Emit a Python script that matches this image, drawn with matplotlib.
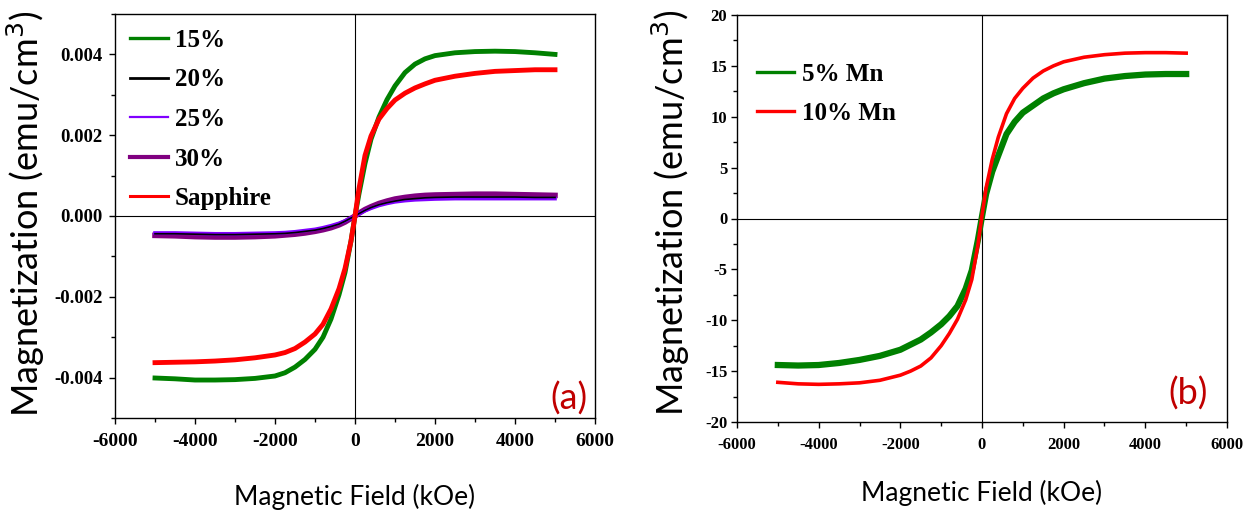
import matplotlib
matplotlib.use("Agg")
import matplotlib.pyplot as plt
from matplotlib.ticker import FixedLocator, MultipleLocator
from matplotlib.lines import Line2D

# ---------------- data ----------------
# applied field (shared sampling for every curve)
field = [-5000, -4500, -4000, -3500, -3000, -2500, -2000, -1750, -1500, -1250,
         -1000, -800, -600, -400, -250, -100, 0, 100, 250, 400, 600, 800,
         1000, 1250, 1500, 1750, 2000, 2500, 3000, 3500, 4000, 4500, 5000]

# panel (a): magnetization in units of 1e-3 emu/cm^3
m_15 = [-4.01, -4.03, -4.06, -4.06, -4.05, -4.02, -3.96, -3.88, -3.74, -3.55,
        -3.30, -3.00, -2.55, -1.95, -1.40, -0.62, 0.0, 0.55, 1.30, 1.90, 2.45, 2.88,
        3.22, 3.55, 3.76, 3.89, 3.97, 4.04, 4.07, 4.08, 4.07, 4.04, 4.00]
m_20 = [-0.44, -0.44, -0.45, -0.46, -0.46, -0.45, -0.44, -0.43, -0.41, -0.38,
        -0.35, -0.31, -0.26, -0.20, -0.13, -0.05, 0.0, 0.06, 0.14, 0.21, 0.28, 0.33,
        0.37, 0.41, 0.43, 0.45, 0.46, 0.47, 0.47, 0.47, 0.47, 0.46, 0.46]
m_25 = [-0.42, -0.42, -0.43, -0.44, -0.44, -0.43, -0.42, -0.41, -0.39, -0.36,
        -0.33, -0.29, -0.24, -0.18, -0.12, -0.05, 0.0, 0.05, 0.13, 0.19, 0.26, 0.31,
        0.35, 0.38, 0.40, 0.41, 0.42, 0.43, 0.43, 0.43, 0.43, 0.43, 0.43]
m_30 = [-0.48, -0.49, -0.51, -0.52, -0.52, -0.51, -0.49, -0.47, -0.45, -0.42,
        -0.38, -0.34, -0.29, -0.22, -0.15, -0.06, 0.0, 0.07, 0.16, 0.23, 0.31, 0.37,
        0.42, 0.46, 0.49, 0.51, 0.52, 0.53, 0.54, 0.54, 0.53, 0.52, 0.51]
m_sapphire = [-3.63, -3.62, -3.61, -3.59, -3.56, -3.51, -3.44, -3.38, -3.28, -3.12,
              -2.92, -2.68, -2.30, -1.80, -1.30, -0.62, 0.0, 0.68, 1.50, 1.98, 2.40, 2.66,
              2.87, 3.04, 3.17, 3.27, 3.36, 3.46, 3.53, 3.58, 3.60, 3.62, 3.62]

# panel (b): magnetization in emu/cm^3
m_5mn = [-14.4, -14.45, -14.4, -14.2, -13.9, -13.5, -12.9, -12.4, -11.9, -11.2,
         -10.4, -9.6, -8.6, -6.9, -5.1, -2.1, 0.2, 2.4, 4.6, 6.2, 8.3, 9.5,
         10.4, 11.1, 11.8, 12.3, 12.7, 13.3, 13.75, 14.0, 14.15, 14.2, 14.2]
m_10mn = [-16.1, -16.25, -16.3, -16.25, -16.15, -15.9, -15.4, -15.0, -14.5, -13.7,
          -12.5, -11.3, -9.9, -8.0, -6.0, -2.6, 0.3, 3.0, 5.8, 8.0, 10.3, 11.8,
          12.8, 13.8, 14.5, 15.0, 15.4, 15.85, 16.1, 16.25, 16.3, 16.3, 16.25]

labels_a = ["15%", "20%", "25%", "30%", "Sapphire"]
labels_b = ["5% Mn", "10% Mn"]

xticks = [-6000, -4000, -2000, 0, 2000, 4000, 6000]
xtick_labels = ["-6000", "-4000", "-2000", "0", "2000", "4000", "6000"]
yticks_a = [-0.004, -0.002, 0.0, 0.002, 0.004]
ytick_labels_a = ["-0.004", "-0.002", "0.000", "0.002", "0.004"]
yticks_b = [-20, -15, -10, -5, 0, 5, 10, 15, 20]
ytick_labels_b = ["-20", "-15", "-10", "-5", "0", "5", "10", "15", "20"]

# ---------------- style ----------------
W, H = 1252, 518
SERIF = "Liberation Serif"
SANS = "Lato"
GREEN, BLACK, VIOLET, PURPLE, RED = "#008000", "#000000", "#8000FF", "#800080", "#FF0000"
DARKRED = "#C00000"

fig = plt.figure(figsize=(W / 100, H / 100), dpi=100)


def px_axes(left, top, right, bottom):
    return fig.add_axes([left / W, 1 - bottom / H, (right - left) / W, (bottom - top) / H])


def setup_axes(ax, yticks, ylabels, yminor, ysize, xsize, ypad, xpad):
    ax.set_xlim(-6000, 6000)
    ax.xaxis.set_major_locator(FixedLocator(xticks))
    ax.set_xticklabels(xtick_labels, fontfamily=SERIF, fontweight="bold", fontsize=xsize)
    ax.xaxis.set_minor_locator(MultipleLocator(1000))
    ax.yaxis.set_major_locator(FixedLocator(yticks))
    ax.set_yticklabels(ylabels, fontfamily=SERIF, fontweight="bold", fontsize=ysize)
    ax.yaxis.set_minor_locator(MultipleLocator(yminor))
    for s in ax.spines.values():
        s.set_linewidth(1.0)
    ax.tick_params(which="both", direction="out", width=1.0)
    ax.tick_params(which="major", length=4.0)
    ax.tick_params(which="minor", length=3.0)
    ax.tick_params(axis="y", which="major", pad=ypad)
    ax.tick_params(axis="x", which="major", pad=xpad)
    ax.axhline(0, color="black", lw=0.8, zorder=1)
    ax.axvline(0, color="black", lw=0.8, zorder=1)


legend_kw = dict(loc="upper left", frameon=False, borderaxespad=0.2, handlelength=1.5,
                 handletextpad=0.3, labelspacing=0.66,
                 prop={"family": SERIF, "weight": "bold", "size": 18})

# ---------------- panel (a) ----------------
ax_a = px_axes(115, 14, 595, 418)
scale = 1e-3
ax_a.plot(field, [v * scale for v in m_15], color=GREEN, lw=3.5, zorder=3)
ax_a.plot(field, [v * scale for v in m_30], color=PURPLE, lw=4.0, zorder=3)
ax_a.plot(field, [v * scale for v in m_25], color=VIOLET, lw=2.6, zorder=4)
ax_a.plot(field, [v * scale for v in m_20], color=BLACK, lw=1.2, zorder=5)
ax_a.plot(field, [v * scale for v in m_sapphire], color=RED, lw=3.5, zorder=6)
ax_a.set_ylim(-0.005, 0.005)
setup_axes(ax_a, yticks_a, ytick_labels_a, 0.001, ysize=13.5, xsize=14, ypad=5, xpad=7)

handles_a = [Line2D([], [], color=GREEN, lw=2.4),
             Line2D([], [], color=BLACK, lw=2.0),
             Line2D([], [], color=VIOLET, lw=1.6),
             Line2D([], [], color=PURPLE, lw=3.0),
             Line2D([], [], color=RED, lw=2.2)]
ax_a.legend(handles_a, labels_a, bbox_to_anchor=(0, 1), **legend_kw)
ax_a.text(0.945, 0.047, "(a)", transform=ax_a.transAxes, ha="center", va="center",
          color=DARKRED, fontsize=26, family=SANS)

# ---------------- panel (b) ----------------
ax_b = px_axes(737, 15, 1227, 422)
ax_b.plot(field, m_5mn, color=GREEN, lw=4.5, zorder=3)
ax_b.plot(field, m_10mn, color=RED, lw=2.6, zorder=4)
ax_b.set_ylim(-20, 20)
setup_axes(ax_b, yticks_b, ytick_labels_b, 2.5, ysize=12, xsize=12, ypad=3, xpad=7)

handles_b = [Line2D([], [], color=GREEN, lw=2.4),
             Line2D([], [], color=RED, lw=2.4)]
ax_b.legend(handles_b, labels_b, bbox_to_anchor=(0.01, 0.92), **legend_kw)
ax_b.text(0.92, 0.07, "(b)", transform=ax_b.transAxes, ha="center", va="center",
          color=DARKRED, fontsize=26, family=SANS)

# ---------------- axis titles ----------------
ylab = "Magnetization (emu/cm$^3$)"
fig.text(26 / W, 1 - 214 / H, ylab, rotation=90, ha="center", va="center",
         fontsize=26, family=SANS)
fig.text(671 / W, 1 - 213 / H, ylab, rotation=90, ha="center", va="center",
         fontsize=26, family=SANS)
fig.text(355 / W, 1 - 497 / H, "Magnetic Field (kOe)", ha="center", va="center",
         fontsize=19, family=SANS)
fig.text(982 / W, 1 - 493 / H, "Magnetic Field (kOe)", ha="center", va="center",
         fontsize=19, family=SANS)

fig.savefig("out.png", dpi=100)
